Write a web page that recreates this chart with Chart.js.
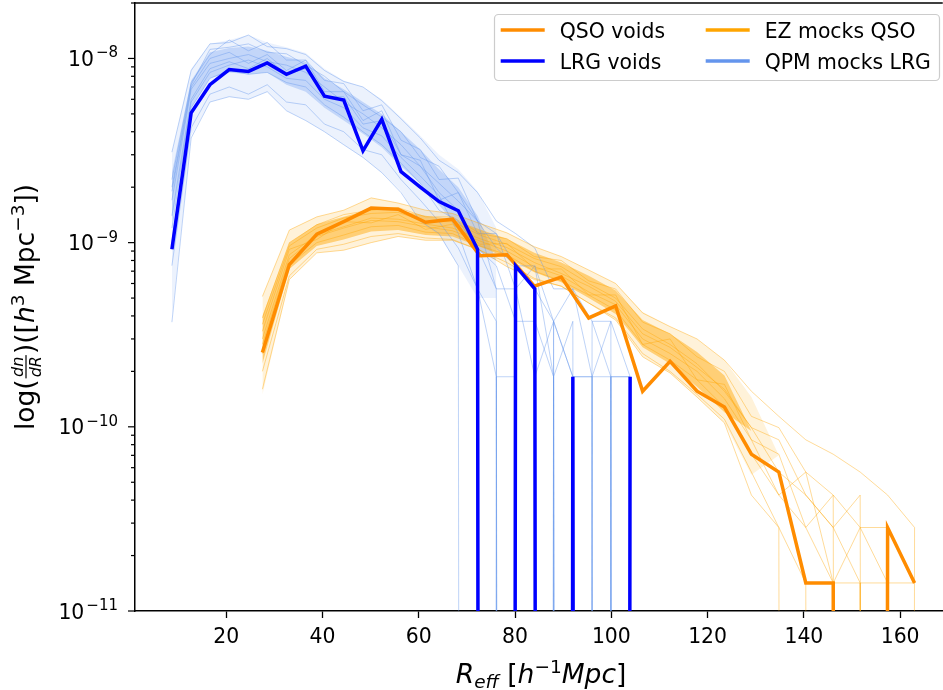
<!DOCTYPE html>
<html>
<head>
<meta charset="utf-8">
<script src="https://cdn.jsdelivr.net/npm/chart.js@4.4.1/dist/chart.umd.min.js"></script>
<style>
  html, body { margin: 0; padding: 0; background: #fff; }
  #wrap { width: 943px; height: 690px; position: relative; }
</style>
</head>
<body>
<div id="wrap"><canvas id="voidChart"></canvas></div>
<script>
// --- data ---
// bin centres, h^-1 Mpc
const lrgR = [8.7, 12.7, 16.6, 20.6, 24.6, 28.5, 32.5, 36.5, 40.4, 44.4, 48.4, 52.3, 56.3,
              60.3, 64.2, 68.2, 72.2, 76.1, 80.1, 84.1, 88.0, 92.0, 96.0, 99.9, 103.9];
const qsoR = [27.5, 33.1, 38.8, 44.4, 50.1, 55.7, 61.4, 67.0, 72.7, 78.3, 84.0, 89.6, 95.3,
              100.9, 106.5, 112.2, 117.8, 123.5, 129.1, 134.8, 140.4, 146.1, 151.7, 157.4, 163.0];

// dn/dR, h^3 Mpc^-3 (0 = empty bin)
const lrgVoids = [9.2e-10, 5.07e-9, 7.2e-9, 8.7e-9, 8.5e-9, 9.46e-9, 8.2e-9, 9.08e-9, 6.24e-9, 5.94e-9,
                  3.15e-9, 4.67e-9, 2.43e-9, 2.0e-9, 1.67e-9, 1.49e-9, 9.2e-10, 0, 7.48e-10, 5.61e-10,
                  0, 1.87e-10, 0, 0, 1.87e-10];
const qsoVoids = [2.53e-10, 7.6e-10, 1.11e-9, 1.3e-9, 1.54e-9, 1.52e-9, 1.29e-9, 1.34e-9, 8.5e-10, 8.6e-10,
                  5.8e-10, 6.5e-10, 3.9e-10, 4.54e-10, 1.56e-10, 2.27e-10, 1.56e-10, 1.28e-10, 7.1e-11, 5.68e-11,
                  1.42e-11, 1.42e-11, 0, 2.84e-11, 1.42e-11];

// a sample of the QPM (LRG) mock curves
const qpmMocks = [
  [3.1e-9, 8.6e-9, 1.2e-8, 1.22e-8, 1.34e-8, 1.16e-8, 1.13e-8, 1.05e-8, 8.6e-9, 7.5e-9, 7.0e-9, 5.9e-9, 4.7e-9,
   3.7e-9, 2.8e-9, 2.4e-9, 1.87e-9, 1.31e-9, 1.12e-9, 9.35e-10, 5.61e-10, 5.61e-10, 3.74e-10, 3.74e-10, 1.87e-10],
  [2.2e-9, 7.4e-9, 1.05e-8, 1.26e-8, 1.1e-8, 1.22e-8, 9.8e-9, 9.8e-9, 7.6e-9, 7.3e-9, 5.2e-9, 5.6e-9, 3.6e-9,
   3.2e-9, 2.2e-9, 2.24e-9, 1.31e-9, 1.12e-9, 7.48e-10, 7.48e-10, 3.74e-10, 5.61e-10, 1.87e-10, 3.74e-10, 0],
  [1.7e-9, 6.8e-9, 9.4e-9, 1.0e-8, 1.05e-8, 9.6e-9, 9.2e-9, 8.4e-9, 7.0e-9, 5.8e-9, 5.0e-9, 4.2e-9, 3.4e-9,
   2.6e-9, 2.1e-9, 1.68e-9, 1.31e-9, 9.35e-10, 7.48e-10, 5.61e-10, 3.74e-10, 1.87e-10, 1.87e-10, 0, 0],
  [1.4e-9, 6.0e-9, 8.8e-9, 9.6e-9, 8.8e-9, 1.0e-8, 8.2e-9, 8.8e-9, 6.2e-9, 6.2e-9, 4.4e-9, 4.6e-9, 3.0e-9,
   2.8e-9, 1.7e-9, 1.87e-9, 1.12e-9, 1.12e-9, 5.61e-10, 7.48e-10, 1.87e-10, 3.74e-10, 0, 1.87e-10, 0],
  [1.0e-9, 5.4e-9, 7.8e-9, 8.6e-9, 8.2e-9, 8.4e-9, 7.4e-9, 7.0e-9, 5.6e-9, 4.8e-9, 4.0e-9, 3.4e-9, 2.7e-9,
   2.1e-9, 1.5e-9, 1.31e-9, 9.35e-10, 7.48e-10, 3.74e-10, 3.74e-10, 0, 1.87e-10, 1.87e-10, 0, 0],
  [7.5e-10, 4.2e-9, 6.4e-9, 7.0e-9, 6.4e-9, 7.2e-9, 5.8e-9, 5.6e-9, 4.4e-9, 4.0e-9, 3.2e-9, 3.0e-9, 2.2e-9,
   1.7e-9, 1.3e-9, 9.35e-10, 5.61e-10, 3.74e-10, 0, 1.87e-10, 0, 0, 0, 0, 0],
  [3.7e-10, 3.7e-9, 5.8e-9, 6.2e-9, 6.0e-9, 6.6e-9, 5.2e-9, 4.6e-9, 4.0e-9, 3.4e-9, 2.9e-9, 2.4e-9, 1.87e-9,
   1.31e-9, 1.12e-9, 7.48e-10, 0, 1.87e-10, 1.87e-10, 0, 1.87e-10, 0, 0, 0, 0],
  [1.9e-9, 7.0e-9, 1.0e-8, 1.08e-8, 9.4e-9, 1.05e-8, 8.6e-9, 9.8e-9, 6.6e-9, 6.6e-9, 4.6e-9, 5.2e-9, 3.0e-9,
   2.6e-9, 1.87e-9, 1.5e-9, 9.35e-10, 5.61e-10, 5.61e-10, 1.87e-10, 3.74e-10, 0, 3.74e-10, 1.87e-10, 1.87e-10],
  [2.0e-9, 7.2e-9, 1.12e-8, 1.15e-8, 1.2e-8, 1.08e-8, 1.06e-8, 9.2e-9, 8.0e-9, 6.6e-9, 5.6e-9, 4.8e-9, 4.0e-9,
   2.9e-9, 2.6e-9, 1.87e-9, 1.31e-9, 5.61e-10, 0, 3.74e-10, 1.87e-10, 0, 1.87e-10, 1.87e-10, 0],
  [1.2e-9, 5.8e-9, 8.4e-9, 9.2e-9, 9.8e-9, 9.0e-9, 7.8e-9, 7.6e-9, 6.0e-9, 5.4e-9, 4.2e-9, 3.8e-9, 2.9e-9,
   2.3e-9, 1.8e-9, 1.12e-9, 5.61e-10, 1.87e-10, 0, 0, 3.74e-10, 1.87e-10, 0, 1.87e-10, 1.87e-10]
];
// density of the QPM bundle: outer envelope and dense core (upper / lower edges)
const qpmOuterHi = [3.1e-9, 8.8e-9, 1.2e-8, 1.26e-8, 1.34e-8, 1.22e-8, 1.15e-8, 1.07e-8, 8.8e-9, 7.6e-9, 7.0e-9,
                    6.0e-9, 4.8e-9, 3.8e-9, 3.0e-9, 2.5e-9, 1.9e-9, 1.2e-9];
const qpmOuterLo = [4.0e-10, 3.8e-9, 5.8e-9, 6.2e-9, 6.0e-9, 6.6e-9, 5.2e-9, 4.6e-9, 4.0e-9, 3.4e-9, 2.9e-9,
                    2.4e-9, 1.9e-9, 1.3e-9, 1.1e-9, 7.5e-10, 5.0e-10, 5.0e-10];
const qpmCoreHi = [2.4e-9, 7.6e-9, 1.08e-8, 1.14e-8, 1.16e-8, 1.1e-8, 1.02e-8, 9.6e-9, 7.8e-9, 6.8e-9, 5.8e-9,
                   5.0e-9, 4.0e-9, 3.2e-9, 2.5e-9, 2.0e-9, 1.4e-9, 8.0e-10];
const qpmCoreLo = [1.3e-9, 5.4e-9, 7.8e-9, 8.4e-9, 8.2e-9, 8.4e-9, 7.2e-9, 6.6e-9, 5.4e-9, 4.6e-9, 3.9e-9,
                   3.3e-9, 2.6e-9, 2.1e-9, 1.6e-9, 1.2e-9, 9.0e-10, 8.0e-10];

// a sample of the EZ (QSO) mock curves
const ezMocks = [
  [5.1e-10, 1.17e-9, 1.38e-9, 1.5e-9, 1.75e-9, 1.64e-9, 1.5e-9, 1.44e-9, 1.27e-9, 1.13e-9, 9.5e-10, 8.4e-10, 7.1e-10,
   6.0e-10, 4.15e-10, 3.5e-10, 3.0e-10, 2.3e-10, 1.56e-10, 1.14e-10, 8.5e-11, 7.1e-11, 5.68e-11, 4.26e-11, 2.84e-11],
  [3.9e-10, 1.0e-9, 1.25e-9, 1.42e-9, 1.5e-9, 1.55e-9, 1.38e-9, 1.38e-9, 1.12e-9, 1.05e-9, 8.4e-10, 8.0e-10, 6.2e-10,
   5.6e-10, 3.7e-10, 3.2e-10, 2.4e-10, 2.0e-10, 1.14e-10, 9.9e-11, 5.68e-11, 4.26e-11, 2.84e-11, 2.84e-11, 1.42e-11],
  [3.0e-10, 8.6e-10, 1.1e-9, 1.22e-9, 1.36e-9, 1.34e-9, 1.26e-9, 1.2e-9, 1.05e-9, 9.4e-10, 7.8e-10, 6.8e-10, 5.8e-10,
   4.8e-10, 3.2e-10, 2.7e-10, 2.1e-10, 1.6e-10, 9.9e-11, 5.68e-11, 4.26e-11, 2.84e-11, 1.42e-11, 1.42e-11, 0],
  [3.3e-10, 9.2e-10, 1.04e-9, 1.3e-9, 1.28e-9, 1.42e-9, 1.18e-9, 1.26e-9, 9.8e-10, 9.9e-10, 7.2e-10, 7.2e-10, 5.2e-10,
   5.2e-10, 2.8e-10, 3.0e-10, 1.8e-10, 1.7e-10, 8.5e-11, 7.1e-11, 2.84e-11, 4.26e-11, 0, 2.84e-11, 0],
  [2.5e-10, 7.6e-10, 1.0e-9, 1.1e-9, 1.22e-9, 1.24e-9, 1.14e-9, 1.12e-9, 9.6e-10, 8.6e-10, 7.0e-10, 6.2e-10, 5.2e-10,
   4.3e-10, 2.8e-10, 2.3e-10, 1.8e-10, 1.28e-10, 7.1e-11, 4.26e-11, 2.84e-11, 1.42e-11, 1.42e-11, 0, 0],
  [2.0e-10, 6.6e-10, 9.2e-10, 9.8e-10, 1.08e-9, 1.12e-9, 1.06e-9, 1.04e-9, 9.1e-10, 7.8e-10, 6.4e-10, 5.8e-10, 4.7e-10,
   3.9e-10, 2.5e-10, 2.0e-10, 1.5e-10, 1.1e-10, 5.68e-11, 2.84e-11, 1.42e-11, 0, 1.42e-11, 0, 0],
  [1.6e-10, 6.3e-10, 8.8e-10, 9.1e-10, 1.0e-9, 1.08e-9, 1.03e-9, 1.03e-9, 9.1e-10, 7.4e-10, 6.3e-10, 5.8e-10, 4.7e-10,
   3.8e-10, 2.4e-10, 1.96e-10, 1.45e-10, 1.05e-10, 4.26e-11, 2.84e-11, 0, 1.42e-11, 0, 0, 0],
  [2.8e-10, 8.2e-10, 1.08e-9, 1.2e-9, 1.32e-9, 1.3e-9, 1.22e-9, 1.16e-9, 1.02e-9, 9.0e-10, 7.4e-10, 6.6e-10, 5.4e-10,
   4.6e-10, 3.0e-10, 2.5e-10, 2.0e-10, 1.42e-10, 8.5e-11, 4.26e-11, 5.68e-11, 1.42e-11, 2.84e-11, 1.42e-11, 1.42e-11],
  [3.6e-10, 9.6e-10, 1.2e-9, 1.36e-9, 1.44e-9, 1.46e-9, 1.3e-9, 1.3e-9, 1.1e-9, 9.8e-10, 8.2e-10, 7.4e-10, 6.0e-10,
   5.0e-10, 3.4e-10, 2.8e-10, 2.2e-10, 1.56e-10, 9.9e-11, 8.5e-11, 4.26e-11, 2.84e-11, 4.26e-11, 0, 2.84e-11]
];
const ezOuterHi = [5.1e-10, 1.17e-9, 1.38e-9, 1.5e-9, 1.75e-9, 1.64e-9, 1.5e-9, 1.44e-9, 1.27e-9, 1.13e-9, 9.5e-10,
                   8.4e-10, 7.1e-10, 6.0e-10, 4.2e-10, 3.5e-10, 3.0e-10, 2.3e-10, 1.45e-10, 7.0e-11];
const ezOuterLo = [1.5e-10, 6.3e-10, 8.8e-10, 9.1e-10, 1.0e-9, 1.08e-9, 1.03e-9, 1.03e-9, 9.1e-10, 7.4e-10, 6.3e-10,
                   5.8e-10, 4.7e-10, 3.8e-10, 2.4e-10, 1.96e-10, 1.45e-10, 1.05e-10, 5.5e-11, 7.0e-11];
const ezCoreHi = [4.0e-10, 1.0e-9, 1.26e-9, 1.38e-9, 1.52e-9, 1.5e-9, 1.4e-9, 1.34e-9, 1.18e-9, 1.05e-9, 8.8e-10,
                  7.8e-10, 6.6e-10, 5.5e-10, 3.8e-10, 3.2e-10, 2.55e-10, 1.9e-10, 9.5e-11];
const ezCoreLo = [2.2e-10, 7.2e-10, 9.6e-10, 1.04e-9, 1.15e-9, 1.17e-9, 1.1e-9, 1.08e-9, 9.5e-10, 8.3e-10, 6.9e-10,
                  6.1e-10, 5.0e-10, 4.1e-10, 2.7e-10, 2.2e-10, 1.65e-10, 1.2e-10, 9.5e-11];

const seriesNames = ['QSO voids', 'LRG voids', 'EZ mocks QSO', 'QPM mocks LRG'];
const seriesColors = ['#ff8c00', '#0000ff', '#ffa500', '#6495ed'];
const xTicks = [20, 40, 60, 80, 100, 120, 140, 160];
const yDecades = [-11, -10, -9, -8];

// empty bins: log axis, send them far below the frame (matplotlib clips them the same way)
const EMPTY = 1e-100;
const FONT = '"DejaVu Sans", sans-serif';

function toPoints(xs, ys) {
  return ys.map((v, i) => ({ x: xs[i], y: v > 0 ? v : EMPTY }));
}

function lineSet(xs, ys, color, width) {
  return { data: toPoints(xs, ys), borderColor: color, borderWidth: width,
           pointRadius: 0, tension: 0, fill: false };
}

// two invisible edges, the second filled back to the first
function bandSets(xs, hi, lo, color) {
  return [
    lineSet(xs, hi, 'rgba(0,0,0,0)', 0),
    Object.assign(lineSet(xs, lo, 'rgba(0,0,0,0)', 0), { fill: '-1', backgroundColor: color })
  ];
}

function font(size, italic) {
  return (italic ? 'italic ' : '') + size + 'px ' + FONT;
}

// tiny rich-text helper for the mathtext-like labels
function partWidth(ctx, p) {
  if (p.frac) {
    ctx.font = font(p.size, true);
    return Math.max(ctx.measureText(p.num).width, ctx.measureText(p.den).width) + 4;
  }
  ctx.font = font(p.size, p.it);
  return ctx.measureText(p.t).width + (p.gap || 0);
}
function partsWidth(ctx, parts) {
  return parts.reduce((s, p) => s + partWidth(ctx, p), 0);
}
function drawParts(ctx, parts, x, y) {
  parts.forEach(p => {
    const w = partWidth(ctx, p);
    if (p.frac) {
      const bar = y - p.axis;
      ctx.textAlign = 'center';
      ctx.fillText(p.num, x + w / 2, bar - 3);
      ctx.fillText(p.den, x + w / 2, bar + 3 + p.size * 0.73);
      ctx.textAlign = 'left';
      ctx.fillRect(x + 1, bar - 0.6, w - 2, 1.2);
    } else {
      ctx.fillText(p.t, x + (p.gap || 0), y + (p.dy || 0));
    }
    x += w;
  });
}

const yLabelParts = [
  { t: 'log(', size: 26.5 },
  { frac: true, num: 'dn', den: 'dR', size: 16, axis: 8 },
  { t: ')([', size: 26.5 },
  { t: 'h', size: 26.5, it: true },
  { t: '3', size: 18.5, dy: -10 },
  { t: ' Mpc', size: 26.5 },
  { t: '\u22123', size: 18.5, dy: -10 },
  { t: '])', size: 26.5 }
];
const xLabelParts = [
  { t: 'R', size: 26.5, it: true },
  { t: 'eff', size: 18.5, it: true, dy: 5 },
  { t: ' [', size: 26.5 },
  { t: 'h', size: 26.5, it: true },
  { t: '\u22121', size: 18.5, dy: -10 },
  { t: 'Mpc', size: 26.5, it: true },
  { t: ']', size: 26.5 }
];

const decorations = {
  id: 'decorations',
  afterDraw(chart) {
    const { ctx, chartArea: a, scales: { y } } = chart;
    ctx.save();
    ctx.fillStyle = '#000';
    ctx.textAlign = 'left';
    ctx.textBaseline = 'alphabetic';

    // top spine
    ctx.fillRect(a.left - 0.75, a.top - 0.75, a.right - a.left + 1.5, 1.5);

    // y ticks (major + minor) and the 10^n labels
    y.ticks.forEach(t => {
      const py = y.getPixelForValue(t.value);
      const len = t.major ? 7 : 4;
      ctx.fillRect(a.left - len, py - 0.6, len, 1.2);
      if (t.major) {
        const parts = [{ t: '10', size: 20.4 },
                       { t: '\u2212' + Math.abs(t.exp), size: 15, dy: -8.5, gap: 2 }];
        drawParts(ctx, parts, a.left - 17 - partsWidth(ctx, parts), py + 7.5);
      }
    });

    // axis titles
    drawParts(ctx, xLabelParts, (a.left + 947) / 2 - partsWidth(ctx, xLabelParts) / 2, 683);
    ctx.save();
    ctx.translate(34, (a.top + a.bottom) / 2);
    ctx.rotate(-Math.PI / 2);
    drawParts(ctx, yLabelParts, -partsWidth(ctx, yLabelParts) / 2, 0);
    ctx.restore();

    // legend, two columns like the original
    const box = { x: 494.5, y: 14.5, w: 445, h: 66 };
    ctx.beginPath();
    ctx.roundRect(box.x, box.y, box.w, box.h, 4);
    ctx.fillStyle = 'rgba(255,255,255,0.8)';
    ctx.fill();
    ctx.strokeStyle = '#cccccc';
    ctx.lineWidth = 1.2;
    ctx.stroke();
    const cols = [500.7, 705.7];
    const rows = [30, 61];
    ctx.font = font(20.4, false);
    seriesNames.forEach((name, i) => {
      const cx = cols[Math.floor(i / 2)];
      const cy = rows[i % 2];
      ctx.strokeStyle = seriesColors[i];
      ctx.lineWidth = 3.5;
      ctx.beginPath();
      ctx.moveTo(cx, cy);
      ctx.lineTo(cx + 44, cy);
      ctx.stroke();
      ctx.fillStyle = '#000';
      ctx.fillText(name, cx + 59, cy + 8);
    });
    ctx.restore();
  }
};

const datasets = [
  lineSet(lrgR, lrgVoids, seriesColors[1], 3.5),
  lineSet(qsoR, qsoVoids, seriesColors[0], 3.5)
];
ezMocks.forEach(m => datasets.push(lineSet(qsoR, m, 'rgba(255,165,0,0.4)', 1)));
qpmMocks.forEach(m => datasets.push(lineSet(lrgR, m, 'rgba(100,149,237,0.42)', 1)));
datasets.push(...bandSets(qsoR, ezCoreHi, ezCoreLo, 'rgba(255,165,0,0.46)'));
datasets.push(...bandSets(qsoR, ezOuterHi, ezOuterLo, 'rgba(255,165,0,0.15)'));
datasets.push(...bandSets(lrgR, qpmCoreHi, qpmCoreLo, 'rgba(100,149,237,0.3)'));
datasets.push(...bandSets(lrgR, qpmOuterHi, qpmOuterLo, 'rgba(100,149,237,0.12)'));

new Chart(document.getElementById('voidChart'), {
  type: 'line',
  data: { datasets },
  options: {
    responsive: true,
    maintainAspectRatio: false,
    animation: false,
    events: [],
    layout: { padding: { top: 3, right: 1, left: 0, bottom: 0 } },
    plugins: { legend: { display: false }, tooltip: { enabled: false } },
    scales: {
      x: {
        type: 'linear',
        min: 1.03,
        max: 168.7,
        afterBuildTicks: axis => { axis.ticks = xTicks.map(v => ({ value: v })); },
        afterFit: axis => { axis.height = 79; },
        grid: { drawOnChartArea: false, tickLength: 7, tickWidth: 1.3, tickColor: '#000' },
        border: { color: '#000', width: 1.5 },
        ticks: { color: '#000', padding: 7, maxRotation: 0, autoSkip: false,
                 font: { family: FONT, size: 20.4 } }
      },
      y: {
        type: 'logarithmic',
        min: 1e-11,
        max: 2e-8,
        afterBuildTicks: axis => {
          const ticks = [];
          yDecades.forEach(exp => {
            for (let k = 1; k <= 9; k++) {
              const v = k * Math.pow(10, exp);
              if (v >= axis.min && v <= axis.max) ticks.push({ value: v, major: k === 1, exp });
            }
          });
          axis.ticks = ticks;
        },
        afterFit: axis => { axis.width = 135; },
        grid: { display: false },
        border: { color: '#000', width: 1.5 },
        ticks: { display: false }
      }
    }
  },
  plugins: [decorations]
});
</script>
</body>
</html>
